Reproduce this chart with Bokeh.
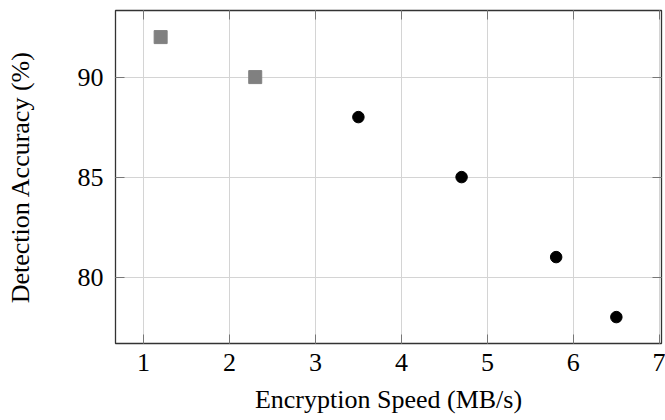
from bokeh.plotting import figure
from bokeh.models import LinearAxis, SingleIntervalTicker, Range1d, Grid, CustomJSTickFormatter
from bokeh.embed import file_html
from bokeh.resources import INLINE

# Data
sq_x = [1.2, 2.3]
sq_y = [92, 90]
ci_x = [3.5, 4.7, 5.8, 6.5]
ci_y = [88, 85, 81, 78]

x_label = "Encryption Speed (MB/s)"
y_label = "Detection Accuracy (%)"

FONT = "Liberation Serif"
FS = "26px"

p = figure(width=665, height=420, output_backend="svg", toolbar_location=None,
           x_range=Range1d(0.675, 7.025), y_range=Range1d(76.68, 93.33),
           x_axis_type=None, y_axis_type=None,
           min_border_left=115, min_border_top=10, min_border_right=1, min_border_bottom=77)
p.background_fill_color = "white"
p.border_fill_color = "white"
p.outline_line_color = "#333333"
p.outline_line_width = 1.3

xt = SingleIntervalTicker(interval=1)
yt = SingleIntervalTicker(interval=5)

def style(ax, show_labels):
    ax.major_tick_in = 9
    ax.major_tick_out = 0
    ax.minor_tick_line_color = None
    ax.major_tick_line_color = "#777777"
    ax.major_tick_line_width = 1
    ax.axis_line_color = None
    if show_labels:
        ax.major_label_text_font = FONT
        ax.major_label_text_font_size = FS
        ax.major_label_text_color = "black"
        ax.axis_label_text_font = FONT
        ax.axis_label_text_font_size = FS
        ax.axis_label_text_font_style = "normal"
        ax.axis_label_text_color = "black"
    else:
        ax.formatter = CustomJSTickFormatter(code="return '';")
        ax.major_label_standoff = 0
        ax.major_label_text_font_size = "1px"

xb = LinearAxis(ticker=xt, axis_label=x_label)
style(xb, True)
xb.major_label_standoff = 6
xb.axis_label_standoff = 11
p.add_layout(xb, "below")

yl = LinearAxis(ticker=yt, axis_label=y_label)
style(yl, True)
yl.major_label_standoff = 8
yl.axis_label_standoff = 40
p.add_layout(yl, "left")

xa = LinearAxis(ticker=xt)
style(xa, False)
p.add_layout(xa, "above")

yr = LinearAxis(ticker=yt)
style(yr, False)
p.add_layout(yr, "right")

p.add_layout(Grid(dimension=0, ticker=xt, grid_line_color="#d4d4d4", grid_line_width=1))
p.add_layout(Grid(dimension=1, ticker=yt, grid_line_color="#d4d4d4", grid_line_width=1))

p.scatter(sq_x, sq_y, marker="square", size=13, fill_color="#808080", line_color="#808080")
p.scatter(ci_x, ci_y, marker="circle", size=11.5, fill_color="black", line_color="black")

open("out.html", "w").write(file_html(p, INLINE))
